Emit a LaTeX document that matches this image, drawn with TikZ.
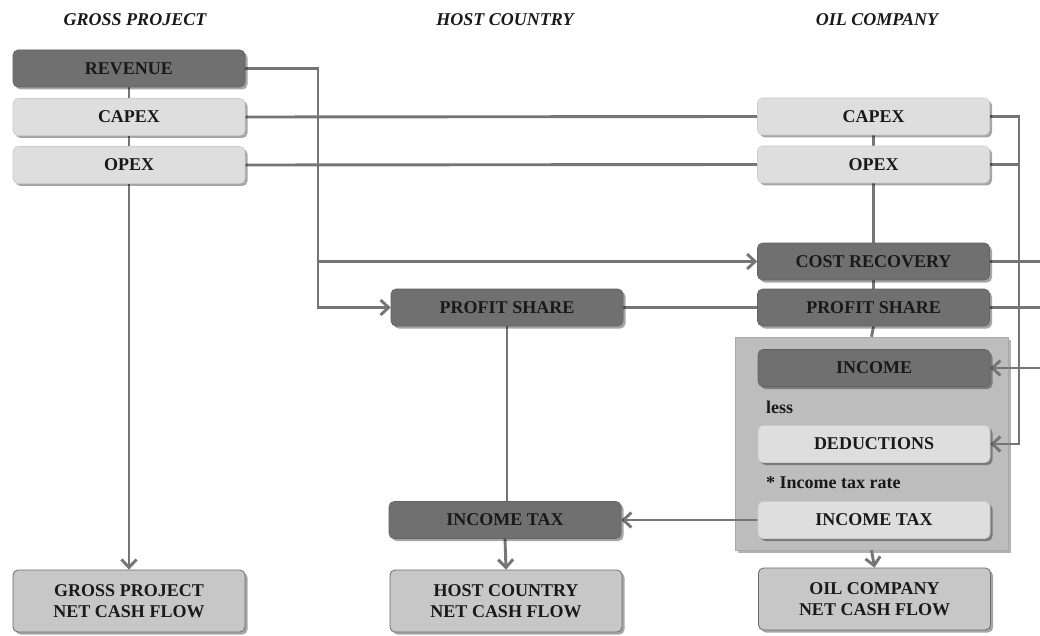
\documentclass[tikz,border=0pt]{standalone}
\usepackage{fontspec}
\setmainfont{Liberation Serif}
\usetikzlibrary{shadows,arrows.meta,backgrounds}
\definecolor{dkc}{gray}{0.44}
\definecolor{dkb}{gray}{0.38}
\definecolor{ltc}{gray}{0.87}
\definecolor{ltb}{gray}{0.80}
\definecolor{ncfc}{gray}{0.78}
\definecolor{ncfb}{gray}{0.42}
\definecolor{grpc}{gray}{0.74}
\definecolor{lnc}{gray}{0.46}
\definecolor{txc}{gray}{0.10}
\begin{document}
\begin{tikzpicture}[x=1pt,y=-1pt,
  lbl/.style={font=\fontsize{18}{21}\selectfont\bfseries, text=txc},
  ttl/.style={font=\fontsize{18}{21}\selectfont\bfseries\itshape, text=txc},
  box/.style={lbl, rounded corners=5pt, minimum width=232pt, minimum height=37pt, inner sep=0pt,
    drop shadow={shadow xshift=2.5pt, shadow yshift=-2.5pt, opacity=0.35, fill=black}},
  dark/.style={box, fill=dkc, draw=dkb, line width=0.6pt},
  light/.style={box, fill=ltc, draw=ltb, line width=0.6pt},
  ncf/.style={box, minimum height=62pt, fill=ncfc, draw=ncfb, line width=0.8pt, align=center},
  grpbox/.style={fill=grpc, draw=grpc!90!black, line width=0.5pt, minimum width=273pt, minimum height=213pt, inner sep=0pt,
    drop shadow={shadow xshift=3pt, shadow yshift=-3pt, opacity=0.3, fill=black}},
  ln/.style={draw=lnc, line width=2.9pt},
  arr/.style={ln, -{Straight Barb[length=8pt,width=15pt,line width=2.9pt]}},
  note/.style={lbl, anchor=west, inner sep=0pt}
]
\useasboundingbox (0,0) rectangle (1040,636);
\clip (0,0) rectangle (1040,636);

\begin{scope}[on background layer]
\fill[white] (0,0) rectangle (1040,636);
% group box
\node[grpbox] (grp) at (871.5,443.5) {};
\end{scope}

% titles
\node[ttl] (t1) at (135,20) {GROSS PROJECT};
\node[ttl] (t2) at (505,20) {HOST COUNTRY};
\node[ttl] (t3) at (877,20) {OIL COMPANY};

% left column
\node[dark]  (rev)  at (129,68.5) {REVENUE};
\node[light] (capL) at (129,117) {CAPEX};
\node[light] (opxL) at (129,165) {OPEX};
\node[ncf]   (gncf) at (129,601) {GROSS PROJECT\\NET CASH FLOW};

% middle column
\node[dark]  (psM)  at (507,307.5) {PROFIT SHARE};
\node[dark]  (itM)  at (505,520) {INCOME TAX};
\node[ncf]   (hncf) at (506,601) {HOST COUNTRY\\NET CASH FLOW};

% right column
\node[light] (capR) at (873.5,116.5) {CAPEX};
\node[light] (opxR) at (873.5,164.5) {OPEX};
\node[dark]  (cr)   at (873.5,261.5) {COST RECOVERY};
\node[dark]  (psR)  at (873.5,307.5) {PROFIT SHARE};
\node[dark]  (inc)  at (874,368) {INCOME};
\node[note]  (less) at (766,407) {less};
\node[light] (ded)  at (874,444) {DEDUCTIONS};
\node[note]  (rate) at (766,483) {* Income tax rate};
\node[light] (itR)  at (874,520) {INCOME TAX};
\node[ncf]   (oncf) at (874.5,599) {OIL COMPANY\\NET CASH FLOW};

\coordinate (j1) at (318,0);
\coordinate (bus) at (1019,0);
\coordinate (rb) at (1050,0);

\begin{scope}[on background layer]
\draw[arr] (rev.south) -- (gncf.north);
\draw[arr] (rev.east) -| (j1 |- psM.west) -- (psM.west);
\draw[arr] (j1 |- cr.west) -- (cr.west);
\draw[ln] (capL.east) -- (capR.west);
\draw[ln] (opxL.east) -- (opxR.west);
\draw[arr] (capR.east) -| (bus |- ded.east) -- (ded.east);
\draw[ln] (opxR.east) -- (bus |- opxR.east);
\draw[ln] (capR.south) -- (opxR.north);
\draw[ln] (opxR.south) -- (cr.north);
\draw[ln] (cr.south) -- (psR.north);
\draw[ln] (psR.south) -- (grp.north);
\draw[ln] (cr.east) -- (rb |- cr.east);
\draw[ln] (psR.east) -- (rb |- psR.east);
\draw[ln] (rb |- cr.east) -- (rb |- inc.east);
\draw[arr] (rb |- inc.east) -- (inc.east);
\draw[ln] (psM.east) -- (psR.west);
\draw[ln] (psM.south) -- (psM.south |- itM.north);
\draw[arr] (itM.south) -- (hncf.north);
\draw[arr] (itR.west) -- (itM.east);
\draw[arr] (grp.south) -- (oncf.north);
\end{scope}
\end{tikzpicture}
\end{document}
